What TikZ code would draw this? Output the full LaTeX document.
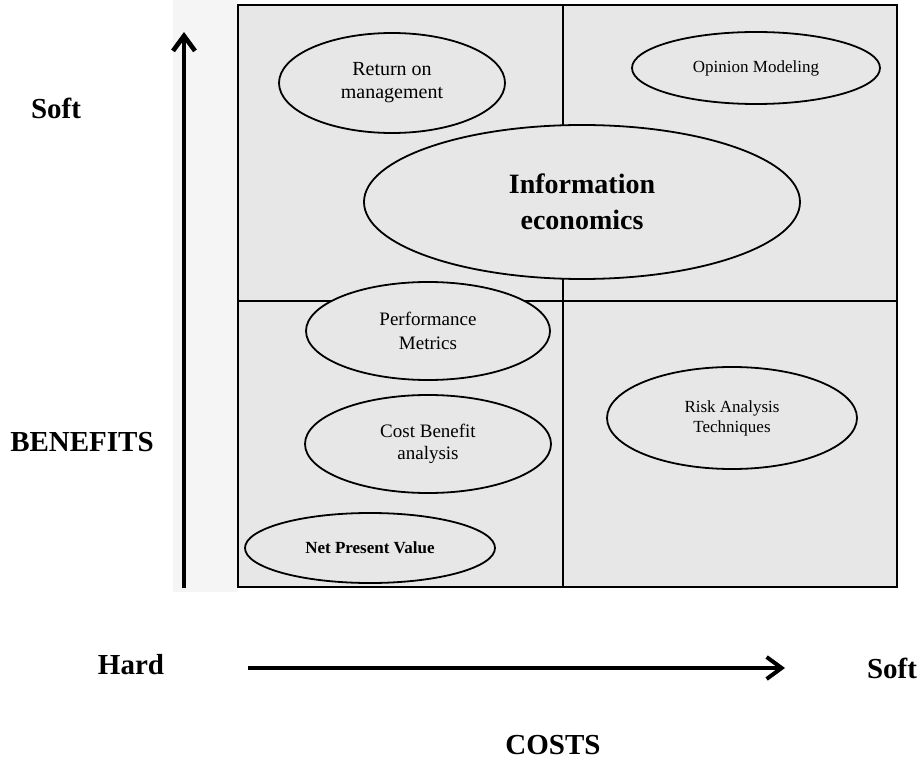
\documentclass[tikz,border=0pt]{standalone}
\usepackage{fontspec}
\setmainfont{Liberation Serif}
\usetikzlibrary{shapes.geometric}
\usetikzlibrary{arrows.meta}
\definecolor{paper}{gray}{0.905}
\tikzset{
    myell/.style = {ellipse, draw=black, line width=1.8pt, fill=paper, inner sep=0pt, align=center},
    axlabel/.style = {font=\fontsize{29}{32}\selectfont\bfseries},
    axarrow/.style = {line width=4.6pt, -{Straight Barb[length=15pt,width=22pt]}},
}

\begin{document}
\begin{tikzpicture}[
	x=1pt,
	y=-1pt,
	line width=1.4pt
]
\useasboundingbox (0,0) rectangle (924,767);
\fill[white] (0,0) rectangle (924,767);
\fill[black!4] (173,0) rectangle (238,592);
%
% the grid
\fill[paper] (238,5) rectangle (897,587);
\draw (238,5) rectangle (897,587);
\draw (563,5) -- (563,587);
\draw (238,301) -- (897,301);
%
\node[myell, minimum width=226, minimum height=100, font=\fontsize{20}{23}\selectfont] at (392,83) (ret) {Return on\\management};
\node[myell, minimum width=248, minimum height=72, font=\fontsize{17}{20}\selectfont] at (756,68) (opin) {Opinion Modeling};
\node[myell, minimum width=436, minimum height=154, font=\fontsize{28}{36}\selectfont\bfseries] at (582,202) (info) {Information\\economics};
\node[myell, minimum width=244, minimum height=98, font=\fontsize{19}{24}\selectfont] at (428,331) (perf) {Performance\\Metrics};
\node[myell, minimum width=246, minimum height=98, font=\fontsize{19}{22}\selectfont] at (428,444) (cba) {Cost Benefit\\analysis};
\node[myell, minimum width=250, minimum height=70, font=\fontsize{17}{20}\selectfont\bfseries] at (370,548) (npv) {Net Present Value};
\node[myell, minimum width=250, minimum height=102, font=\fontsize{17}{20}\selectfont] at (732,418) (risk) {Risk Analysis\\Techniques};
%
% axes
\coordinate (ylo) at (184,588);
\coordinate (yhi) at (184,32);
\coordinate (xlo) at (248,668);
\coordinate (xhi) at (785,668);
\draw[axarrow] (ylo) -- (yhi);
\draw[axarrow, line width=4pt] (xlo) -- (xhi);
%
\node[axlabel] at (56,108) (softy) {Soft};
\node[axlabel] at (82,442) (ben) {BENEFITS};
\node[axlabel] at (131,665) (hard) {Hard};
\node[axlabel] at (892,668) (softx) {Soft};
\node[axlabel] at (553,745) (costs) {COSTS};
\end{tikzpicture}
\end{document}
